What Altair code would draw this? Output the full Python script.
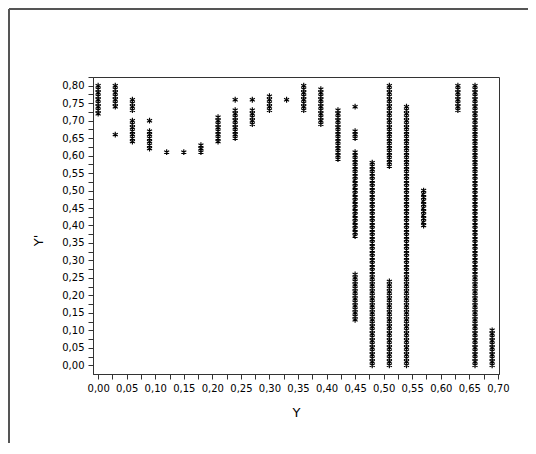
import altair as alt
import pandas as pd

# Column positions (Y) and the Y' values (in hundredths) read for each column
X_VALUES = [0.00, 0.03, 0.06, 0.09, 0.12, 0.15, 0.18, 0.21, 0.24, 0.27, 0.30,
            0.33, 0.36, 0.39, 0.42, 0.45, 0.48, 0.51, 0.54, 0.57, 0.63, 0.66, 0.69]

c000 = [72, 73, 74, 75, 76, 77, 78, 79, 80]
c003 = [66, 74, 75, 76, 77, 78, 79, 80]
c006 = [64, 65, 66, 67, 68, 69, 70, 73, 74, 75, 76]
c009 = [62, 63, 64, 65, 66, 67, 70]
c012 = [61]
c015 = [61]
c018 = [61, 62, 63]
c021 = [64, 65, 66, 67, 68, 69, 70, 71]
c024 = [65, 66, 67, 68, 69, 70, 71, 72, 73, 76]
c027 = [69, 70, 71, 72, 73, 76]
c030 = [73, 74, 75, 76, 77]
c033 = [76]
c036 = [73, 74, 75, 76, 77, 78, 79, 80]
c039 = [69, 70, 71, 72, 73, 74, 75, 76, 77, 78, 79]
c042 = [59, 60, 61, 62, 63, 64, 65, 66, 67, 68, 69, 70, 71, 72, 73]
c045 = [13, 14, 15, 16, 17, 18, 19, 20, 21, 22, 23, 24, 25, 26,
        37, 38, 39, 40, 41, 42, 43, 44, 45, 46, 47, 48, 49, 50, 51, 52, 53, 54,
        55, 56, 57, 58, 59, 60, 61, 65, 66, 67, 74]
c048 = [0, 1, 2, 3, 4, 5, 6, 7, 8, 9, 10, 11, 12, 13, 14, 15, 16, 17, 18, 19,
        20, 21, 22, 23, 24, 25, 26, 27, 28, 29, 30, 31, 32, 33, 34, 35, 36, 37,
        38, 39, 40, 41, 42, 43, 44, 45, 46, 47, 48, 49, 50, 51, 52, 53, 54, 55,
        56, 57, 58]
c051 = [0, 1, 2, 3, 4, 5, 6, 7, 8, 9, 10, 11, 12, 13, 14, 15, 16, 17, 18, 19,
        20, 21, 22, 23, 24, 57, 58, 59, 60, 61, 62, 63, 64, 65, 66, 67, 68, 69,
        70, 71, 72, 73, 74, 75, 76, 77, 78, 79, 80]
c054 = [0, 1, 2, 3, 4, 5, 6, 7, 8, 9, 10, 11, 12, 13, 14, 15, 16, 17, 18, 19,
        20, 21, 22, 23, 24, 25, 26, 27, 28, 29, 30, 31, 32, 33, 34, 35, 36, 37,
        38, 39, 40, 41, 42, 43, 44, 45, 46, 47, 48, 49, 50, 51, 52, 53, 54, 55,
        56, 57, 58, 59, 60, 61, 62, 63, 64, 65, 66, 67, 68, 69, 70, 71, 72, 73, 74]
c057 = [40, 41, 42, 43, 44, 45, 46, 47, 48, 49, 50]
c063 = [73, 74, 75, 76, 77, 78, 79, 80]
c066 = [0, 1, 2, 3, 4, 5, 6, 7, 8, 9, 10, 11, 12, 13, 14, 15, 16, 17, 18, 19,
        20, 21, 22, 23, 24, 25, 26, 27, 28, 29, 30, 31, 32, 33, 34, 35, 36, 37,
        38, 39, 40, 41, 42, 43, 44, 45, 46, 47, 48, 49, 50, 51, 52, 53, 54, 55,
        56, 57, 58, 59, 60, 61, 62, 63, 64, 65, 66, 67, 68, 69, 70, 71, 72, 73,
        74, 75, 76, 77, 78, 79, 80]
c069 = [0, 1, 2, 3, 4, 5, 6, 7, 8, 9, 10]

Y_COLUMNS = [c000, c003, c006, c009, c012, c015, c018, c021, c024, c027, c030,
             c033, c036, c039, c042, c045, c048, c051, c054, c057, c063, c066, c069]

X_TICKS = [0.0, 0.025, 0.05, 0.075, 0.1, 0.125, 0.15, 0.175, 0.2, 0.225, 0.25,
           0.275, 0.3, 0.325, 0.35, 0.375, 0.4, 0.425, 0.45, 0.475, 0.5, 0.525,
           0.55, 0.575, 0.6, 0.625, 0.65, 0.675, 0.7]
Y_TICKS = [0.0, 0.025, 0.05, 0.075, 0.1, 0.125, 0.15, 0.175, 0.2, 0.225, 0.25,
           0.275, 0.3, 0.325, 0.35, 0.375, 0.4, 0.425, 0.45, 0.475, 0.5, 0.525,
           0.55, 0.575, 0.6, 0.625, 0.65, 0.675, 0.7, 0.725, 0.75, 0.775, 0.8, 0.825]

rows = []
for xv, ys in zip(X_VALUES, Y_COLUMNS):
    for yv in ys:
        rows.append({"Y": xv, "Yp": yv / 100.0})
df = pd.DataFrame(rows)

LABEL_EXPR = ("abs(round(datum.value*1000) % 50) < 1 && datum.value < 0.81 ? "
              "replace(format(datum.value, '.2f'), '.', ',') : ''")

ASTERISK = "M0,-1L0,1M-0.87,-0.5L0.87,0.5M-0.87,0.5L0.87,-0.5"

FONT = "DejaVu Sans"

points = alt.Chart(df).mark_point(
    shape=ASTERISK, filled=False, color="black", strokeWidth=1.15, size=34, opacity=1
).encode(
    x=alt.X("Y:Q",
            scale=alt.Scale(domain=[-0.009, 0.702], nice=False, zero=False),
            axis=alt.Axis(values=X_TICKS, labelExpr=LABEL_EXPR, title="Y",
                          labelOverlap=False, labelFlush=False, grid=False,
                          tickSize=5, labelPadding=4,
                          titleY=38, titleBaseline="middle")),
    y=alt.Y("Yp:Q",
            scale=alt.Scale(domain=[-0.025, 0.825], nice=False, zero=False),
            axis=alt.Axis(values=Y_TICKS, labelExpr=LABEL_EXPR, title="Y'",
                          labelOverlap=False, labelFlush=False, grid=False,
                          tickSize=5, labelPadding=4,
                          titleX=-55, titleY=163, titleBaseline="middle",
                          titleAlign="center")),
)

frame_df = pd.DataFrame({"k": [0]})
frame_left = alt.Chart(frame_df).mark_rule(color="#555555", strokeWidth=2).encode(
    x=alt.value(-84), y=alt.value(-68), y2=alt.value(370)
)
frame_top = alt.Chart(frame_df).mark_rule(color="#555555", strokeWidth=2).encode(
    x=alt.value(-84), x2=alt.value(440), y=alt.value(-68)
)

chart = alt.layer(points, frame_left, frame_top).properties(
    width=406, height=297,
    autosize=alt.AutoSizeParams(type="none"),
    padding={"left": 85, "top": 69, "right": 29, "bottom": 69},
    background="white",
).configure_view(
    stroke="#333333", strokeWidth=1
).configure_axis(
    domainColor="#333333", tickColor="#333333", labelColor="black",
    titleColor="black", labelFont=FONT, titleFont=FONT, labelFontSize=10,
    titleFontSize=13, titleFontWeight="normal"
)

chart.save("out.html", embed_options={"renderer": "svg", "actions": False})
